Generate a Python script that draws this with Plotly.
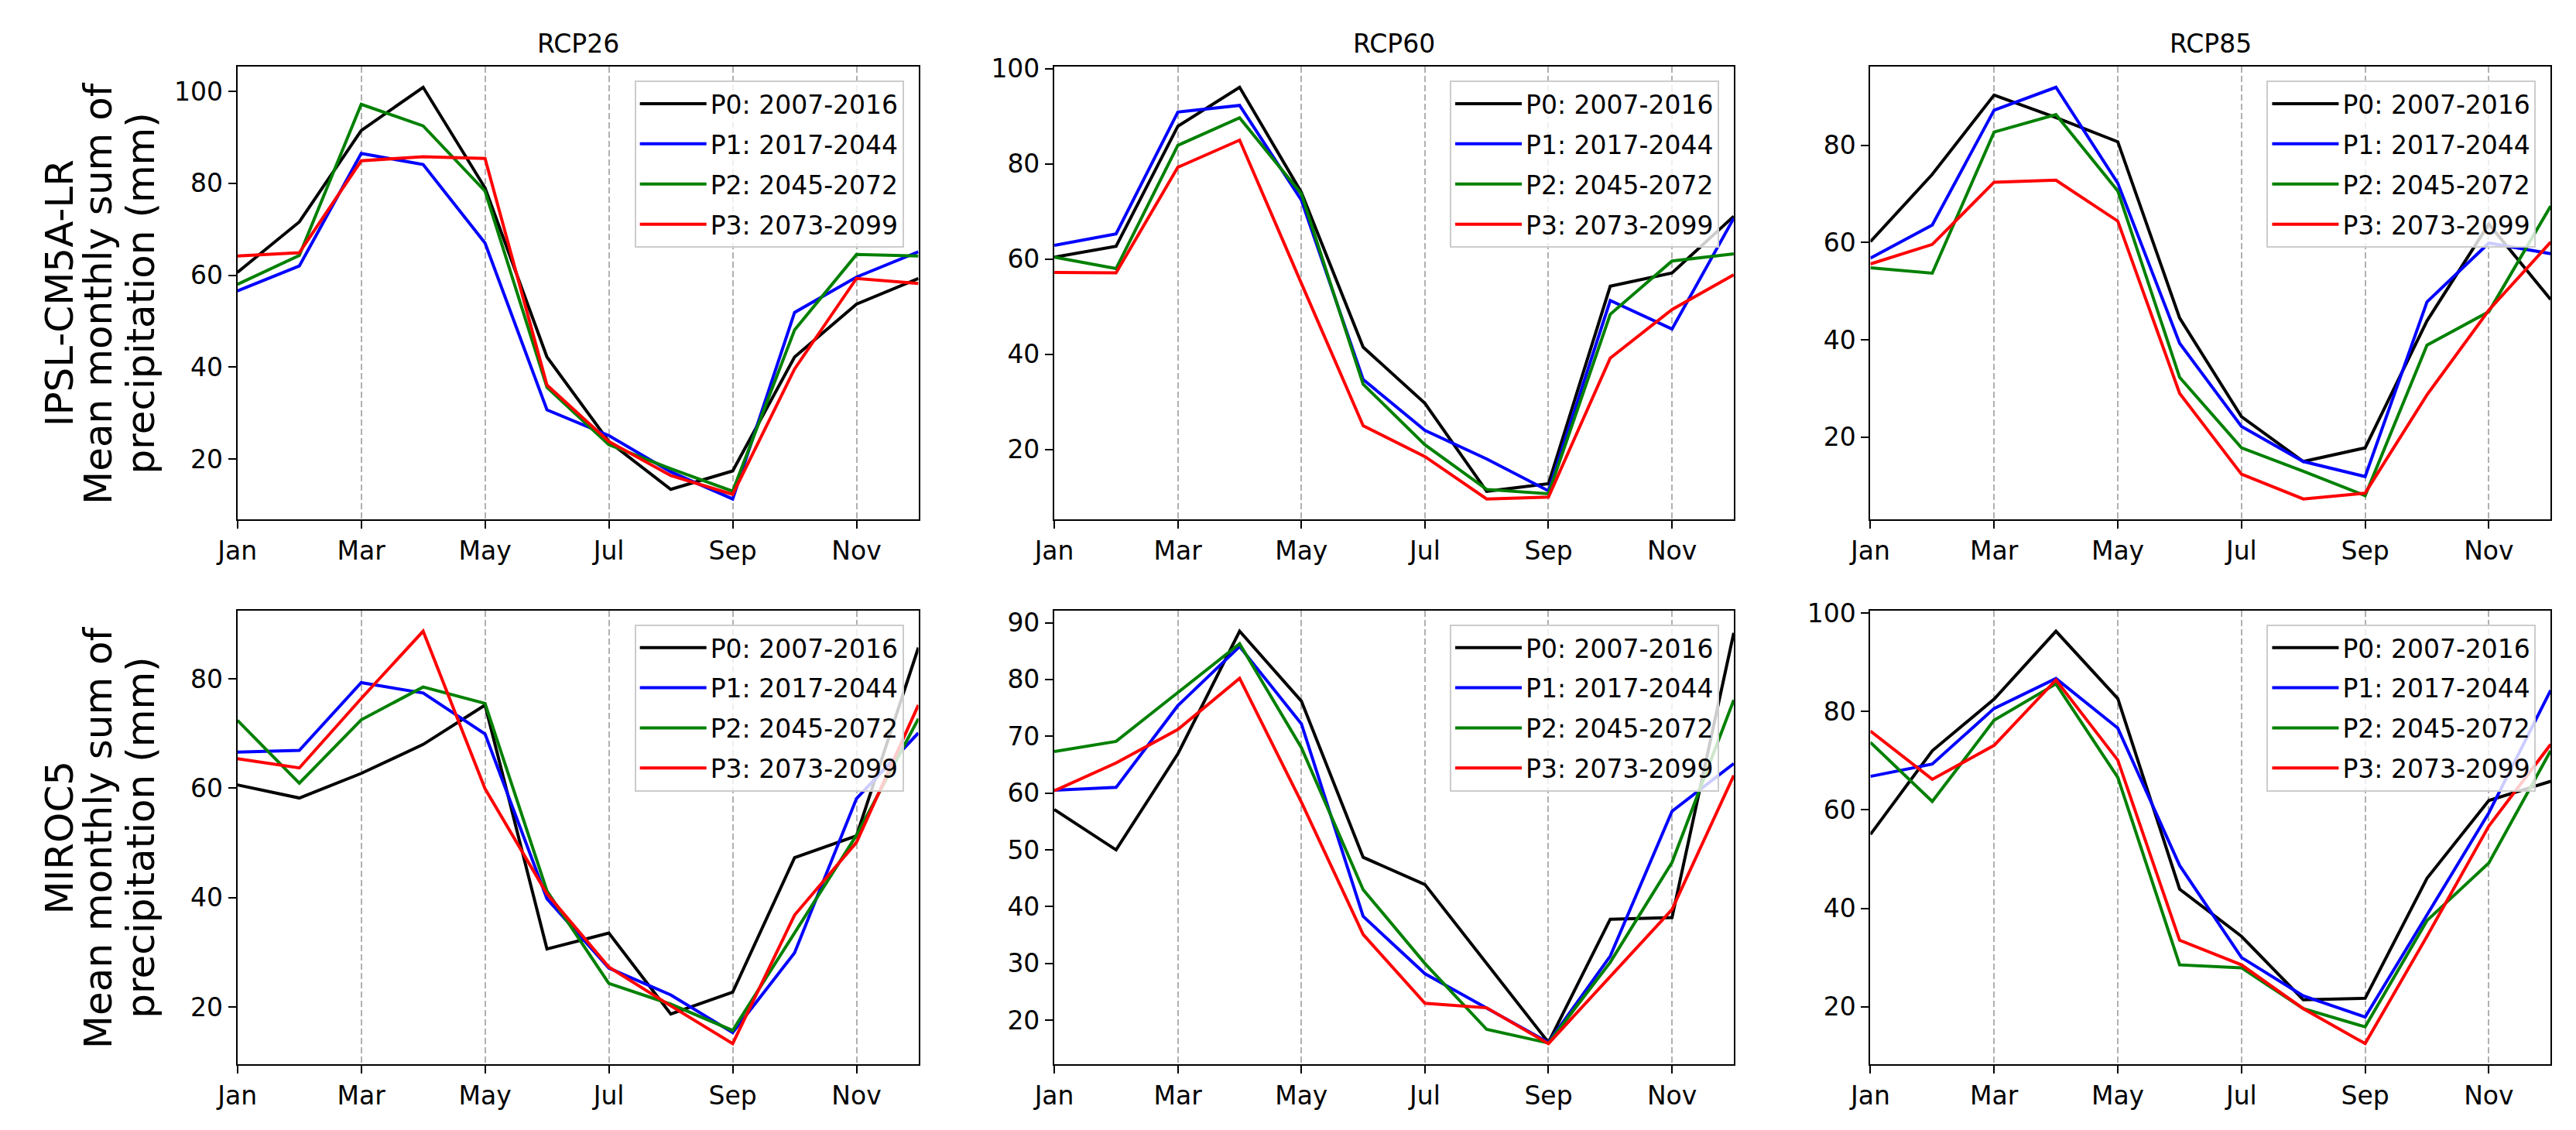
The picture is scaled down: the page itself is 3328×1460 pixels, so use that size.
import plotly.graph_objects as go

months = ["Jan", "Feb", "Mar", "Apr", "May", "Jun", "Jul", "Aug", "Sep", "Oct", "Nov", "Dec"]
tick_months = ["Jan", "Mar", "May", "Jul", "Sep", "Nov"]
scenarios = ["RCP26", "RCP60", "RCP85"]
models = ["IPSL-CM5A-LR", "MIROC5"]
period_labels = ["P0: 2007-2016", "P1: 2017-2044", "P2: 2045-2072", "P3: 2073-2099"]
period_colors = ["#000000", "#0000ff", "#008000", "#ff0000"]

# IPSL-CM5A-LR
ipsl_rcp26_p0 = [60.6, 71.6, 91.5, 100.9, 79.0, 42.2, 23.8, 13.4, 17.4, 42.2, 53.7, 59.3]
ipsl_rcp26_p1 = [56.6, 62.0, 86.5, 84.1, 67.0, 30.7, 25.1, 17.2, 11.3, 51.9, 59.6, 65.1]
ipsl_rcp26_p2 = [58.0, 64.3, 97.2, 92.5, 78.3, 35.6, 23.1, 17.9, 13.0, 48.1, 64.5, 64.2]
ipsl_rcp26_p3 = [64.2, 64.9, 84.9, 85.8, 85.4, 36.1, 23.8, 16.4, 12.3, 39.6, 59.3, 58.2]

ipsl_rcp60_p0 = [60.4, 62.7, 87.9, 96.1, 74.0, 41.5, 29.7, 11.2, 12.8, 54.3, 57.1, 69.0]
ipsl_rcp60_p1 = [62.9, 65.3, 90.9, 92.3, 72.4, 34.7, 24.0, 18.0, 11.3, 51.3, 45.3, 68.6]
ipsl_rcp60_p2 = [60.4, 58.0, 83.9, 89.7, 73.7, 33.7, 21.0, 11.6, 10.7, 48.4, 59.6, 61.1]
ipsl_rcp60_p3 = [57.2, 57.1, 79.3, 85.0, 54.9, 25.0, 18.5, 9.6, 10.0, 39.2, 49.4, 56.7]

ipsl_rcp85_p0 = [60.2, 74.0, 90.3, 85.7, 80.7, 44.5, 24.2, 15.0, 17.8, 43.9, 63.8, 48.3]
ipsl_rcp85_p1 = [56.8, 63.6, 87.2, 91.9, 72.2, 39.3, 22.2, 15.0, 11.9, 47.8, 59.9, 57.7]
ipsl_rcp85_p2 = [54.8, 53.7, 82.7, 86.3, 70.6, 32.3, 17.8, 13.0, 8.0, 38.9, 45.8, 67.5]
ipsl_rcp85_p3 = [55.6, 59.6, 72.4, 72.8, 64.4, 29.0, 12.4, 7.3, 8.5, 28.7, 46.1, 60.1]

# MIROC5
miroc_rcp26_p0 = [60.6, 58.2, 62.7, 68.0, 75.2, 30.6, 33.5, 18.7, 22.7, 47.3, 51.3, 85.7]
miroc_rcp26_p1 = [66.6, 66.9, 79.3, 77.4, 69.9, 39.8, 27.1, 22.2, 15.3, 29.9, 58.1, 70.1]
miroc_rcp26_p2 = [72.4, 60.9, 72.5, 78.5, 75.5, 41.2, 24.3, 20.5, 15.7, 33.5, 51.4, 72.7]
miroc_rcp26_p3 = [65.4, 63.7, 76.4, 88.7, 59.9, 40.7, 27.3, 20.2, 13.3, 36.8, 50.1, 75.2]

miroc_rcp60_p0 = [57.1, 50.0, 66.9, 88.5, 76.2, 48.7, 43.9, 30.0, 16.1, 37.8, 38.1, 88.2]
miroc_rcp60_p1 = [60.5, 61.0, 75.4, 85.8, 72.2, 38.3, 28.2, 22.2, 16.1, 31.3, 56.8, 65.2]
miroc_rcp60_p2 = [67.3, 69.1, 77.7, 86.3, 68.0, 43.0, 30.0, 18.4, 16.0, 30.2, 47.8, 76.4]
miroc_rcp60_p3 = [60.4, 65.3, 71.2, 80.2, 58.4, 35.1, 23.0, 22.2, 15.9, 27.7, 39.5, 63.1]

miroc_rcp85_p0 = [55.0, 72.0, 82.5, 96.3, 82.6, 43.9, 34.3, 21.4, 21.7, 46.1, 61.9, 65.8]
miroc_rcp85_p1 = [66.8, 69.3, 80.6, 86.7, 76.6, 48.7, 30.0, 22.2, 17.9, 38.6, 59.4, 84.3]
miroc_rcp85_p2 = [73.7, 61.7, 78.2, 85.6, 66.6, 28.5, 27.9, 19.6, 15.9, 37.5, 49.2, 72.0]
miroc_rcp85_p3 = [76.0, 66.2, 73.1, 86.4, 70.1, 33.5, 28.5, 19.6, 12.5, 34.3, 56.7, 73.3]

panels = [
    [ipsl_rcp26_p0, ipsl_rcp26_p1, ipsl_rcp26_p2, ipsl_rcp26_p3],
    [ipsl_rcp60_p0, ipsl_rcp60_p1, ipsl_rcp60_p2, ipsl_rcp60_p3],
    [ipsl_rcp85_p0, ipsl_rcp85_p1, ipsl_rcp85_p2, ipsl_rcp85_p3],
    [miroc_rcp26_p0, miroc_rcp26_p1, miroc_rcp26_p2, miroc_rcp26_p3],
    [miroc_rcp60_p0, miroc_rcp60_p1, miroc_rcp60_p2, miroc_rcp60_p3],
    [miroc_rcp85_p0, miroc_rcp85_p1, miroc_rcp85_p2, miroc_rcp85_p3],
]
ytick_steps = [20, 20, 20, 20, 10, 20]

W, H = 3328, 1460
col_px = [(282, 1169), (1346, 2231), (2409, 3295)]
row_px = [(70, 662), (781, 1374)]

FONT = "DejaVu Sans"
TICK_SIZE = 33

fig = go.Figure()
layout = dict(
    width=W, height=H, autosize=False,
    margin=dict(l=0, r=0, t=0, b=0),
    paper_bgcolor="white", plot_bgcolor="white",
    font=dict(family=FONT, size=TICK_SIZE, color="black"),
    annotations=[],
)

for i, series in enumerate(panels):
    r, c = divmod(i, 3)
    n = i + 1
    xa = "x" if n == 1 else f"x{n}"
    ya = "y" if n == 1 else f"y{n}"
    leg = "legend" if n == 1 else f"legend{n}"
    for k, vals in enumerate(series):
        fig.add_trace(go.Scatter(
            x=months, y=vals, mode="lines", name=period_labels[k],
            line=dict(color=period_colors[k], width=4),
            xaxis=xa, yaxis=ya, legend=leg, legendgroup=f"g{n}_{k}",
        ))
    x0, x1 = col_px[c]
    y0, y1 = row_px[r]
    dom_x = [x0 / W, x1 / W]
    dom_y = [1 - y1 / H, 1 - y0 / H]
    allv = [v for s in series for v in s]
    lo, hi = min(allv), max(allv)
    pad = 0.05 * (hi - lo)
    xkey = "xaxis" if n == 1 else f"xaxis{n}"
    ykey = "yaxis" if n == 1 else f"yaxis{n}"
    layout[xkey] = dict(
        domain=dom_x, anchor=ya, type="category", categoryorder="array",
        categoryarray=months, range=[0, 11], tickmode="array",
        tickvals=tick_months, ticktext=tick_months,
        showline=True, linecolor="black", linewidth=2.2, mirror=True,
        ticks="outside", ticklen=10, tickwidth=2.2, tickcolor="black",
        showgrid=True, gridcolor="#b0b0b0", gridwidth=2, griddash="8px,4px",
        zeroline=False, tickfont=dict(family=FONT, size=TICK_SIZE, color="black"),
    )
    layout[ykey] = dict(
        domain=dom_y, anchor=xa, range=[lo - pad, hi + pad],
        tickmode="linear", tick0=0, dtick=ytick_steps[i],
        showline=True, linecolor="black", linewidth=2.2, mirror=True,
        ticks="outside", ticklen=10, tickwidth=2.2, tickcolor="black",
        showgrid=False, zeroline=False,
        tickfont=dict(family=FONT, size=TICK_SIZE, color="black"),
    )
    layout[leg] = dict(
        x=(x1 - 19) / W, y=1 - (y0 + 18) / H, xanchor="right", yanchor="top",
        xref="paper", yref="paper",
        bgcolor="rgba(255,255,255,0.8)", bordercolor="#cccccc", borderwidth=2,
        font=dict(family=FONT, size=TICK_SIZE, color="black"),
        traceorder="grouped", tracegroupgap=6, itemwidth=86,
    )

# column titles
for c, name in enumerate(scenarios):
    x0, x1 = col_px[c]
    layout["annotations"].append(dict(
        text=name, x=(x0 + x1) / 2 / W, y=1 - 40 / H, xref="paper", yref="paper",
        showarrow=False, xanchor="center", yanchor="middle",
        font=dict(family=FONT, size=TICK_SIZE, color="black"),
    ))

# row labels (three centred lines each)
label_lines = [
    ["IPSL-CM5A-LR", "Mean monthly sum of", "precipitation (mm)"],
    ["MIROC5", "Mean monthly sum of", "precipitation (mm)"],
]
line_x_px = [50, 101, 156]
for r, lines in enumerate(label_lines):
    y0, y1 = row_px[r]
    yc = 1 - (y0 + y1) / 2 / H
    for j, txt in enumerate(lines):
        layout["annotations"].append(dict(
            text=txt, x=line_x_px[j] / W, y=yc, xref="paper", yref="paper",
            showarrow=False, textangle=-90, xanchor="center", yanchor="middle",
            font=dict(family=FONT, size=50, color="black"),
        ))

fig.update_layout(**layout)
fig.write_html(
    "out.html",
    config={"displayModeBar": False},
    post_script="document.body.style.margin='0';document.body.style.overflow='hidden';",
)
